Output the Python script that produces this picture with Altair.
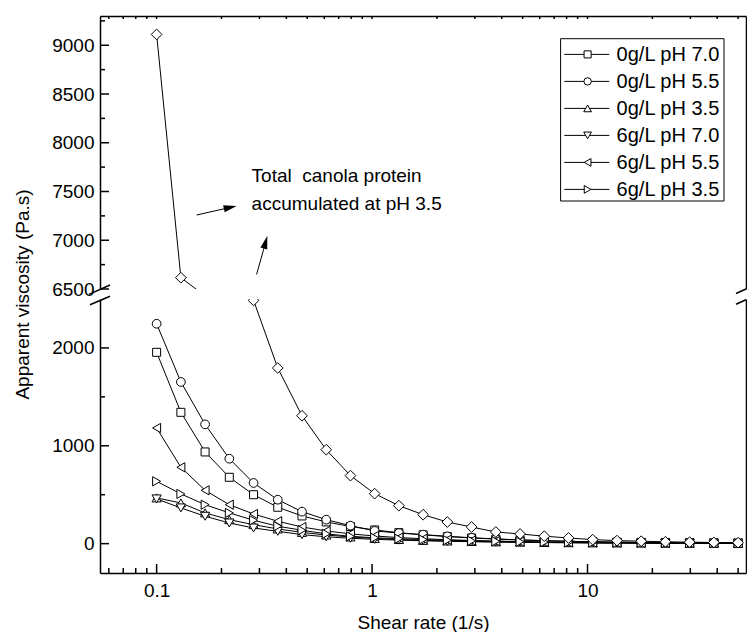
import altair as alt
import pandas as pd

# ---------------- data ----------------
shear_rate = [0.1, 0.1296, 0.1679, 0.2175, 0.2818, 0.3650, 0.4729, 0.6126, 0.7937,
              1.028, 1.332, 1.726, 2.236, 2.897, 3.753, 4.863, 6.300, 8.162,
              10.57, 13.70, 17.75, 22.99, 29.79, 38.60, 50.0]

series_names = ["0g/L pH 7.0", "0g/L pH 5.5", "0g/L pH 3.5",
                "6g/L pH 7.0", "6g/L pH 5.5", "6g/L pH 3.5",
                "Total canola protein pH 3.5"]

visc_0g_70 = [1955, 1342, 937, 678, 500, 372, 283, 222, 175, 140, 112, 90, 72, 58, 47, 38, 30, 24, 19, 15, 12, 10, 8, 7, 6]
visc_0g_55 = [2247, 1652, 1219, 868, 620, 449, 327, 245, 184, 130, 108, 92, 75, 60, 48, 38, 30, 24, 19, 15, 12, 10, 8, 7, 6]
visc_0g_35 = [467, 416, 314, 245, 194, 150, 115, 88, 68, 53, 42, 33, 27, 22, 18, 15, 12, 10, 8, 7, 6, 5, 4, 4, 3]
visc_6g_70 = [457, 365, 280, 211, 160, 126, 92, 70, 55, 44, 36, 29, 24, 20, 16, 13, 11, 9, 7, 6, 5, 4, 4, 3, 3]
visc_6g_55 = [1182, 780, 545, 398, 303, 229, 170, 130, 100, 78, 62, 50, 40, 32, 26, 21, 17, 14, 11, 9, 8, 7, 6, 5, 4]
visc_6g_35 = [637, 508, 398, 314, 239, 178, 137, 100, 75, 60, 50, 42, 35, 29, 24, 20, 16, 13, 11, 9, 8, 7, 6, 5, 4]
visc_total = [9111, 6616, 6430, 3000, 2486, 1795, 1307, 960, 695, 511, 388, 296, 221, 170, 119, 99, 76, 58, 41, 31, 25, 19, 15, 12, 10]

series_values = [visc_0g_70, visc_0g_55, visc_0g_35, visc_6g_70, visc_6g_55, visc_6g_35, visc_total]
legend_names = series_names[:6]

y_upper_major = [6500, 7000, 7500, 8000, 8500, 9000]
y_upper_minor = [6750, 7250, 7750, 8250, 8750, 9250]
y_lower_major = [0, 1000, 2000]
y_lower_minor = [500, 1500]
x_major = [0.1, 1, 10]
x_minor = [0.06, 0.07, 0.08, 0.09, 0.2, 0.3, 0.4, 0.5, 0.6, 0.7, 0.8, 0.9,
           2, 3, 4, 5, 6, 7, 8, 9, 20, 30, 40, 50]

rows = []
for name, vals in zip(series_names, series_values):
    for r, v in zip(shear_rate, vals):
        rows.append({"series": name, "rate": r, "visc": v})
df = pd.DataFrame(rows)

# ---------------- styling ----------------
FONT = "Liberation Sans"
INK = "black"
FS = 19
W = 646
H_UP = 273
H_LO = 274
X_DOM = [0.0546, 54.4]
UP_DOM = [6500, 9300]
LO_DOM = [-300, 2500]

marker_shapes = ["square", "circle", "triangle-up", "triangle-down",
                 "triangle-left", "triangle-right", "diamond"]
marker_sizes = [64, 76, 85, 85, 85, 85, 115]
legend_sizes = [50, 55, 60, 60, 60, 60]
ARROW = "M0,0L-2,-0.55L-2,0.55Z"
TICK_UP = "M0,0L0,-2"     # tick glyph from the bottom edge
TICK_DOWN = "M0,0L0,2"    # from the top edge
EDGE = 0.01               # pixel position of the panel's top edge


def tick_bar(length, thick=1.5):
    # filled thin bar pointing right, 2 units long (unit = length / 2 px)
    t = thick / length
    return f"M0,{-t:.3f}L2,{-t:.3f}L2,{t:.3f}L0,{t:.3f}Z"


def ax(**kw):
    base = dict(grid=False, domainColor=INK, domainWidth=1.5, tickColor=INK,
                tickWidth=1.5, labelFont=FONT, labelFontSize=FS, labelColor=INK,
                titleFont=FONT, titleFontSize=FS, titleColor=INK,
                titleFontWeight="normal")
    base.update(kw)
    return alt.Axis(**base)


dummy = pd.DataFrame({"k": [0]})


def seg(x1, y1, x2, y2, width=1.5):
    return alt.Chart(dummy).mark_rule(color=INK, strokeWidth=width).encode(
        x=alt.value(x1), y=alt.value(y1), x2=alt.value(x2), y2=alt.value(y2))


def tick_size(length):
    return (length) ** 2  # glyph spans 2 units of sqrt(size)/2


def y_ticks(values, xscale, yscale, length):
    # inward ticks at the left end of the x domain, placed through both scales
    tdf = pd.DataFrame({"rate": [X_DOM[0]] * len(values), "visc": values})
    return alt.Chart(tdf).mark_point(
        shape=tick_bar(length), size=tick_size(length), filled=True, color=INK,
        opacity=1, strokeWidth=0).encode(
        x=alt.X("rate:Q", scale=xscale, axis=None),
        y=alt.Y("visc:Q", scale=yscale, axis=None))


def x_ticks(values, scale, length, ypos, glyph):
    return alt.Chart(pd.DataFrame({"v": values})).mark_point(
        shape=glyph, size=tick_size(length), filled=False, stroke=INK,
        strokeWidth=1.5, opacity=1).encode(
        x=alt.X("v:Q", scale=scale, axis=None), y=alt.value(ypos))


def legend_box():
    # legend frame + one row (line, open marker, label) per series
    x0, y0, x1, y1 = 460.6, 22.7, 624.0, 185.0
    out = [alt.Chart(dummy).mark_rect(fill="white", stroke=INK, strokeWidth=1).encode(
        x=alt.value(x0), x2=alt.value(x1), y=alt.value(y0), y2=alt.value(y1))]
    for i, (name, shp, sz) in enumerate(zip(legend_names, marker_shapes, legend_sizes)):
        yy = 38.4 + 27.0 * i
        out.append(seg(464.3, yy, 509.3, yy, 1))
        out.append(alt.Chart(dummy).mark_point(
            shape=shp, size=sz, filled=True, fill="white", stroke=INK, strokeWidth=1,
            opacity=1).encode(x=alt.value(487.6), y=alt.value(yy)))
        out.append(alt.Chart(dummy).mark_text(
            align="left", baseline="middle", font=FONT, fontSize=20, color=INK).encode(
            x=alt.value(516.6), y=alt.value(yy + 1), text=alt.value(name)))
    return out


def panel(top):
    h = H_UP if top else H_LO
    xs = alt.Scale(type="log", domain=X_DOM)
    ys = alt.Scale(domain=UP_DOM if top else LO_DOM, nice=False, zero=False)
    src = alt.Chart(df)
    empty = alt.Chart(df).transform_filter("false")

    if top:
        y_major, y_minor = y_upper_major, y_upper_minor
        x_main = ax(orient="top", labels=False, ticks=False, title=None)
        y_main = ax(orient="left", values=y_major, format="d", ticks=False,
                    labelPadding=6, title="Apparent viscosity (Pa.s)",
                    titleX=-78, titleY=h + 5, titleAngle=270,
                    titleAlign="center", titleBaseline="middle")
    else:
        y_major, y_minor = y_lower_major, y_lower_minor
        x_main = ax(orient="bottom", values=x_major, format="~g", ticks=False,
                    labelPadding=8, title="Shear rate (1/s)", titlePadding=13)
        y_main = ax(orient="left", values=y_major, format="d", ticks=False,
                    labelPadding=6, title=None)

    lines = src.mark_line(color=INK, strokeWidth=1, clip=True).encode(
        x=alt.X("rate:Q", scale=xs, axis=x_main),
        y=alt.Y("visc:Q", scale=ys, axis=y_main),
        detail="series:N",
    )
    pts = []
    for name, shp, sz in zip(series_names, marker_shapes, marker_sizes):
        pts.append(
            src.transform_filter(alt.datum.series == name)
            .mark_point(shape=shp, size=sz, filled=True, fill="white", stroke=INK,
                        strokeWidth=1, opacity=1, clip=True)
            .encode(x=alt.X("rate:Q", scale=xs, axis=None),
                    y=alt.Y("visc:Q", scale=ys, axis=None))
        )
    right = empty.mark_point().encode(
        x=alt.X("rate:Q", scale=xs, axis=None),
        y=alt.Y("visc:Q", scale=ys,
                axis=ax(orient="right", labels=False, ticks=False, title=None)))

    layers = [lines] + pts + [right, y_ticks(y_major, xs, ys, 9), y_ticks(y_minor, xs, ys, 5)]

    if top:
        layers += [x_ticks(x_major, xs, 3, EDGE, TICK_DOWN),
                   x_ticks(x_minor, xs, 3, EDGE, TICK_DOWN)]
        # axis-break slashes (bottom of upper panel)
        layers += [seg(-11, h + 5.4, 10, h - 4), seg(W - 10, h + 4.5, W, h)]
        # annotation
        note = alt.Chart(dummy).mark_text(
            align="left", baseline="middle", font=FONT, fontSize=FS, color=INK,
            lineBreak="\n", lineHeight=28).encode(
            x=alt.value(151.6), y=alt.value(160),
            text=alt.value("Total\u00a0 canola protein\naccumulated at pH 3.5"))
        layers.append(note)
        layers += [seg(96.6, 199, 132, 191, 1), seg(156.6, 258.4, 166, 225, 1)]
        layers.append(alt.Chart(dummy).mark_point(
            shape=ARROW, size=169, filled=True, color=INK, opacity=1, angle=347.3
        ).encode(x=alt.value(136.6), y=alt.value(190)))
        layers.append(alt.Chart(dummy).mark_point(
            shape=ARROW, size=169, filled=True, color=INK, opacity=1, angle=285.6
        ).encode(x=alt.value(167.3), y=alt.value(220)))
        layers += legend_box()
    else:
        layers += [x_ticks(x_major, xs, 9, h, TICK_UP), x_ticks(x_minor, xs, 5, h, TICK_UP)]
        layers += [seg(-10, 5.7, 10, -2.7), seg(W - 10, 5.2, W, 0.8)]

    return alt.layer(*layers).resolve_axis(x="independent", y="independent").properties(
        width=W, height=h)


chart = alt.vconcat(panel(True), panel(False), spacing=10, bounds="flush").configure_view(
    stroke=None).properties(padding={"left": 5, "top": 5, "right": 0, "bottom": 0})

chart.save("out.html", embed_options={"renderer": "svg", "actions": False})
